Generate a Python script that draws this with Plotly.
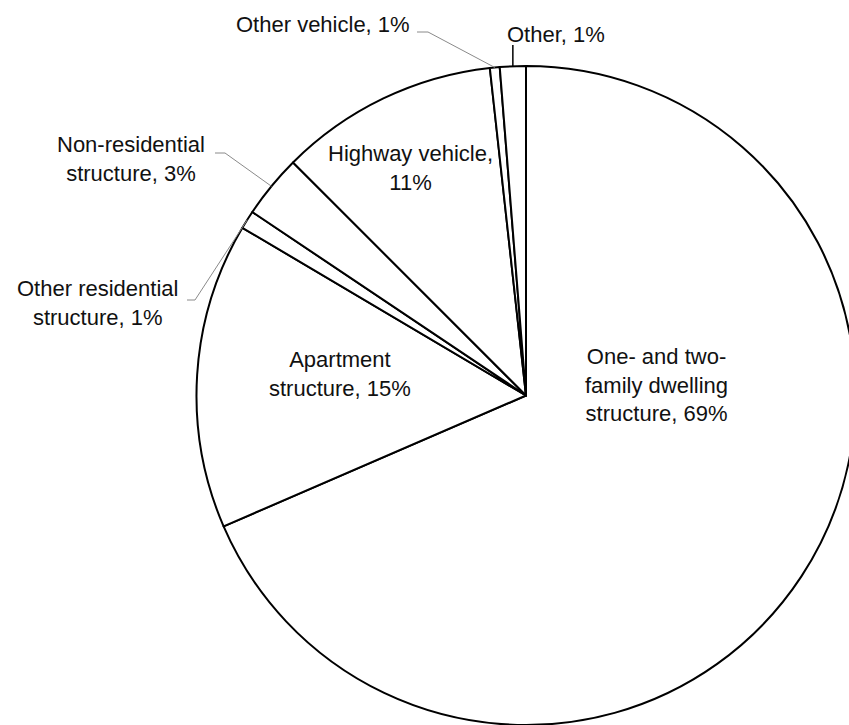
import numpy as np
import plotly.graph_objects as go

# ---- data ----
categories = ["One- and two-family dwelling structure", "Apartment structure",
              "Other residential structure", "Non-residential structure",
              "Highway vehicle", "Other vehicle", "Other"]
shares = [68.5, 15.0, 0.9, 3.1, 10.75, 0.48, 1.27]
pct_text = [69, 15, 1, 3, 11, 1, 1]
label_lines = [["One- and two-", "family dwelling", "structure, "],
               ["Apartment", "structure, "],
               ["Other residential", "structure, "],
               ["Non-residential", "structure, "],
               ["Highway vehicle,", ""],
               ["Other vehicle, "],
               ["Other, "]]

W, H = 880, 725
CX, CY, R = 526, 395.5, 329.5

fig = go.Figure(go.Pie(
    labels=categories, values=shares, sort=False, direction="clockwise", rotation=0,
    marker=dict(colors=["white"] * len(shares), line=dict(color="black", width=2)),
    textinfo="none", hoverinfo="skip", showlegend=False,
    domain=dict(x=[(CX - R) / W, (CX + R) / W], y=[0, 2 * R / H]),
))

def txt(i):
    lines = list(label_lines[i])
    lines[-1] = lines[-1] + f"{pct_text[i]}%"
    return "<br>".join(lines)

def px(x, y):
    return x / W, 1 - y / H

# arc point at middle of each slice (from data)
tot = sum(shares)
cum = np.cumsum([0] + shares[:-1])
mid = [(c + v / 2) / tot * 2 * np.pi for c, v in zip(cum, shares)]
arc = [(CX + R * np.sin(a), CY - R * np.cos(a)) for a in mid]

font = dict(family="Liberation Sans, Arial, sans-serif", size=22, color="#111111")
ann = []
# inside labels: (index, center x, center y)
for i, x, y in [(0, 656, 385), (1, 340, 374), (4, 410, 168)]:
    ax, ay = px(x, y)
    ann.append(dict(x=ax, y=ay, xref="paper", yref="paper", text=txt(i), showarrow=False,
                    font=font, align="center", xanchor="center", yanchor="middle"))
# outside labels
out = [(2, 97, 303, "center", "middle"), (3, 131, 159, "center", "middle"),
       (5, 412, 24, "right", "middle"), (6, 505, 35, "left", "middle")]
for i, x, y, xa, ya in out:
    ax, ay = px(x, y)
    ann.append(dict(x=ax, y=ay, xref="paper", yref="paper", text=txt(i), showarrow=False,
                    font=font, align="center", xanchor=xa, yanchor=ya))

shapes = []
gray = dict(color="#8a8a8a", width=1)
def seg(p, q, line):
    a = px(*p); b = px(*q)
    shapes.append(dict(type="line", xref="paper", yref="paper", x0=a[0], y0=a[1],
                       x1=b[0], y1=b[1], line=line))

# leader lines: short dash next to text, then to the slice arc
seg((187, 300), (195, 300), gray); seg((195, 300), arc[2], gray)
seg((215, 153), (225, 153), gray); seg((225, 153), arc[3], gray)
seg((417, 32), (428, 32), gray); seg((428, 32), arc[5], gray)
seg((arc[6][0], 45), arc[6], dict(color="black", width=1.5))

fig.update_layout(width=W, height=H, margin=dict(l=0, r=0, t=0, b=0),
                  paper_bgcolor="white", plot_bgcolor="white",
                  annotations=ann, shapes=shapes)

fig.write_html("out.html", config={"displayModeBar": False}, post_script=(
    "document.body.style.margin='0';document.body.style.overflow='hidden';"
    "document.documentElement.style.overflow='hidden';"))
